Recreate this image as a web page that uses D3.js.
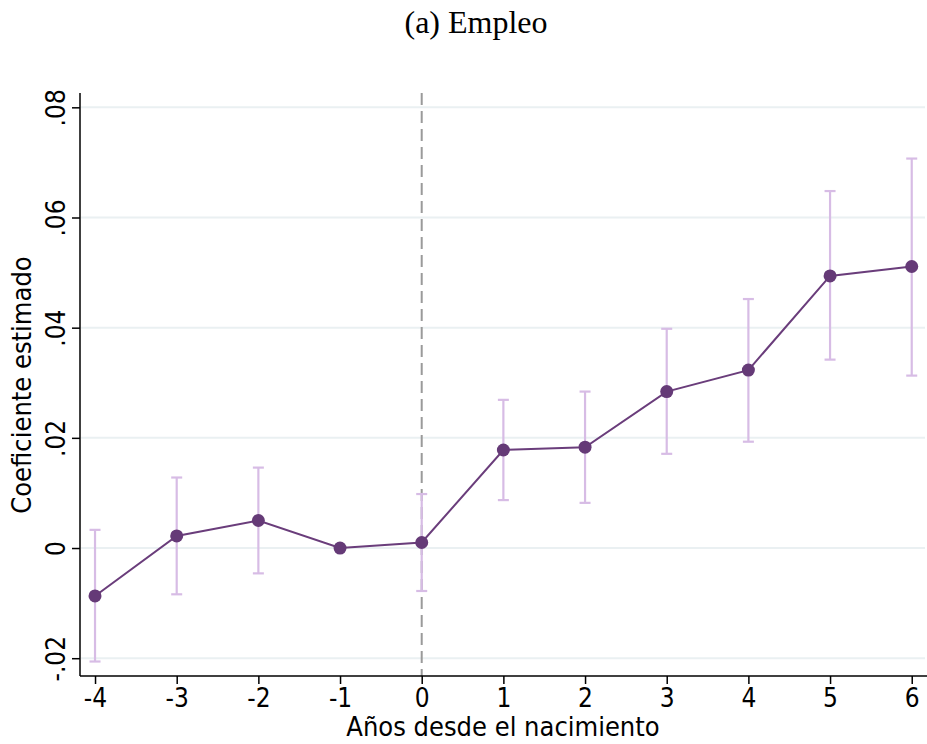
<!DOCTYPE html>
<html><head><meta charset="utf-8">
<script src="https://cdn.jsdelivr.net/npm/d3@7"></script>
<style>body{margin:0;background:#fff}svg{display:block}</style>
</head><body>
<svg id="c" width="927" height="744"></svg>
<script>
const years = [-4,-3,-2,-1,0,1,2,3,4,5,6];
const coef  = [-0.0087,0.0022,0.0050,0.0000,0.0010,0.0178,0.0183,0.0284,0.0323,0.0494,0.0511];
const ciLow = [-0.0206,-0.0084,-0.0046,null,-0.0078,0.0087,0.0082,0.0171,0.0193,0.0342,0.0313];
const ciHigh= [0.0033,0.0128,0.0146,null,0.0098,0.0269,0.0284,0.0398,0.0452,0.0648,0.0707];
const yTicks = [-0.02,0,0.02,0.04,0.06,0.08];
const yTickLabels = ["-.02","0",".02",".04",".06",".08"];
const xTickLabels = ["-4","-3","-2","-1","0","1","2","3","4","5","6"];
const title = "(a) Empleo";
const xTitle = "Años desde el nacimiento";
const yTitle = "Coeficiente estimado";

const svg = d3.select("#c");
const L=80, R=927, T=93, B=676;
const x = d3.scaleLinear().domain([-4.184,6.187]).range([L,R]);
const y = d3.scaleLinear().domain([-0.02323,0.0826]).range([B,T]);
const font = "'DejaVu Sans Condensed','DejaVu Sans',sans-serif";

// gridlines
svg.append("g").selectAll("line").data(yTicks).join("line")
  .attr("x1",L+1).attr("x2",R-2).attr("y1",d=>y(d)).attr("y2",d=>y(d))
  .attr("stroke","#eaf0f2").attr("stroke-width",2);

// vertical dashed line at 0
svg.append("line").attr("x1",x(0)).attr("x2",x(0)).attr("y1",T).attr("y2",B)
  .attr("stroke","#9a9a9a").attr("stroke-width",2).attr("stroke-dasharray","12,6");

// axes
const yAxis = d3.axisLeft(y).tickValues(yTicks).tickFormat((d,i)=>yTickLabels[i]).tickSize(8).tickPadding(6);
const gy = svg.append("g").attr("transform",`translate(${L},0)`).call(yAxis);
gy.select(".domain").attr("d",`M0,${T}V${B}`).attr("stroke","#000").attr("stroke-width",1.5);
gy.selectAll(".tick line").attr("stroke","#000").attr("stroke-width",1.5);
gy.selectAll(".tick text").attr("font-family",font).attr("font-size",26).attr("fill","#000")
  .each(function(){
    d3.select(this).attr("x",null).attr("dy",null).attr("y",0).attr("text-anchor","middle")
     .attr("transform",`translate(-15,0) rotate(-90)`);
  });

const xAxis = d3.axisBottom(x).tickValues(years).tickFormat((d,i)=>xTickLabels[i]).tickSize(8).tickPadding(3);
const gx = svg.append("g").attr("transform",`translate(0,${B})`).call(xAxis);
gx.select(".domain").attr("d",`M${L},0H${R}`).attr("stroke","#000").attr("stroke-width",1.5);
gx.selectAll(".tick line").attr("stroke","#000").attr("stroke-width",1.5);
gx.selectAll(".tick text").attr("font-family",font).attr("font-size",26).attr("fill","#000").attr("dy","0.75em");

// error bars
const eb = years.map((d,i)=>({x:d,lo:ciLow[i],hi:ciHigh[i]})).filter(d=>d.lo!==null);
const ebc = "#d7bce5";
const g = svg.append("g");
g.selectAll(".v").data(eb).join("line").attr("x1",d=>x(d.x)).attr("x2",d=>x(d.x))
  .attr("y1",d=>y(d.lo)).attr("y2",d=>y(d.hi)).attr("stroke",ebc).attr("stroke-width",2.2);
g.selectAll(".ct").data(eb).join("line").attr("x1",d=>x(d.x)-5.5).attr("x2",d=>x(d.x)+5.5)
  .attr("y1",d=>y(d.hi)).attr("y2",d=>y(d.hi)).attr("stroke",ebc).attr("stroke-width",2.2);
g.selectAll(".cb").data(eb).join("line").attr("x1",d=>x(d.x)-5.5).attr("x2",d=>x(d.x)+5.5)
  .attr("y1",d=>y(d.lo)).attr("y2",d=>y(d.lo)).attr("stroke",ebc).attr("stroke-width",2.2);

// line + points
const pts = years.map((d,i)=>[d,coef[i]]);
svg.append("path").datum(pts).attr("fill","none").attr("stroke","#6a3d7b").attr("stroke-width",2)
  .attr("d",d3.line().x(d=>x(d[0])).y(d=>y(d[1])));
svg.append("g").selectAll("circle").data(pts).join("circle")
  .attr("cx",d=>x(d[0])).attr("cy",d=>y(d[1])).attr("r",6.5).attr("fill","#653a77");

// titles
svg.append("text").attr("x",476).attr("y",33).attr("text-anchor","middle")
  .attr("font-family","'Liberation Serif','Times New Roman',serif").attr("font-size",32).text(title);
svg.append("text").attr("x",503).attr("y",736).attr("text-anchor","middle")
  .attr("font-family",font).attr("font-size",27).text(xTitle);
svg.append("text").attr("transform",`translate(31,385) rotate(-90)`).attr("text-anchor","middle")
  .attr("font-family",font).attr("font-size",27).text(yTitle);
</script>
</body></html>
